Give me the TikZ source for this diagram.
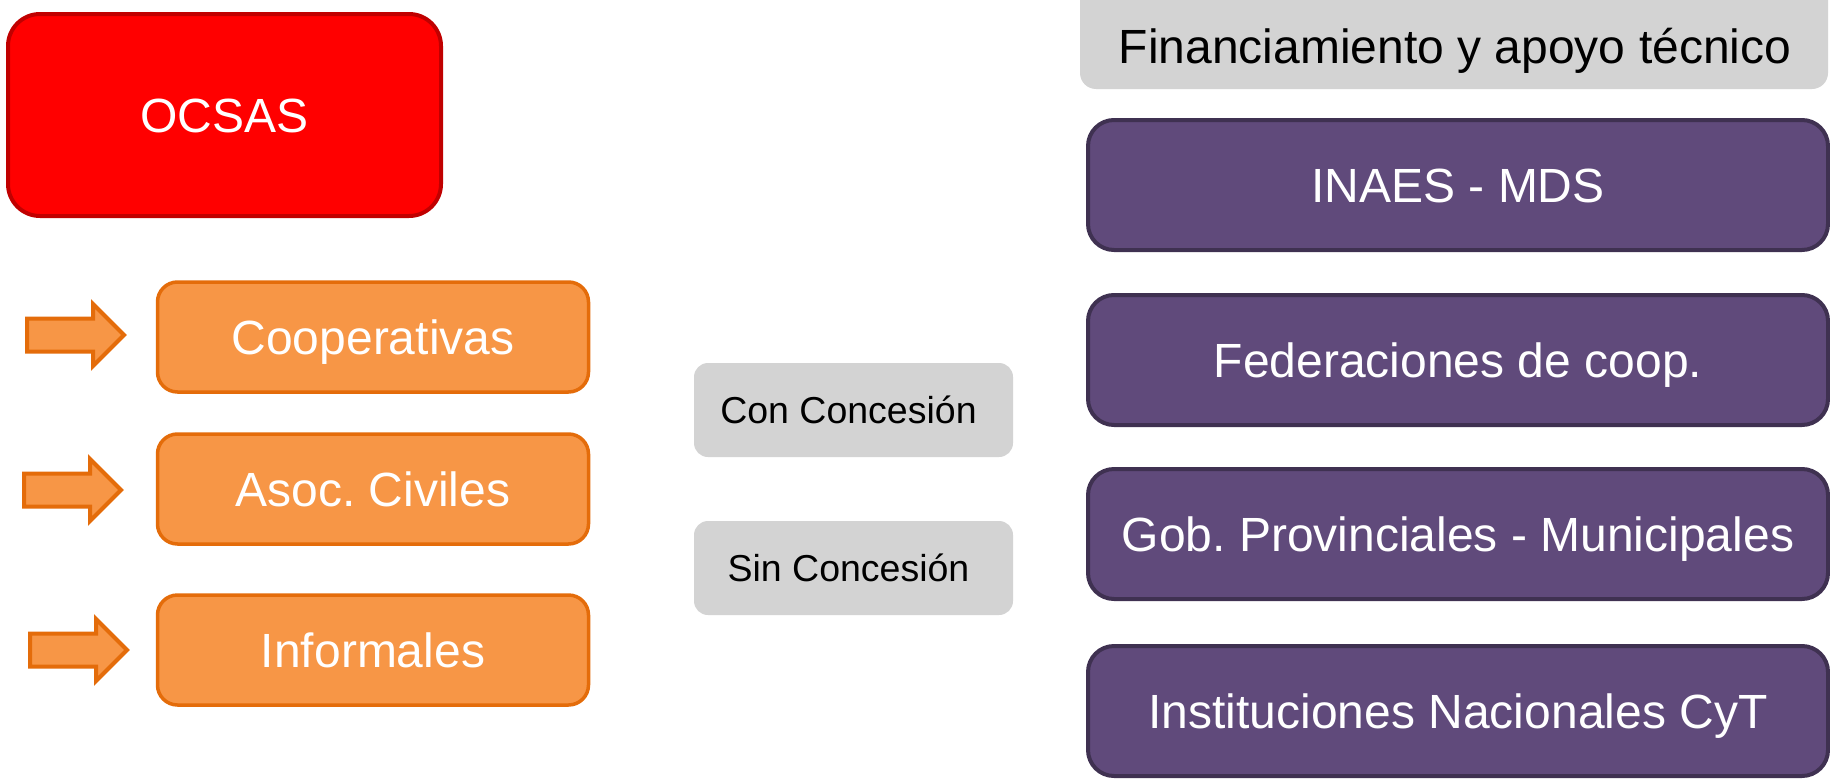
\documentclass[tikz,border=0pt]{standalone}
\usepackage{fontspec}
\setmainfont{Liberation Sans}
\frenchspacing
\definecolor{ocsasred}{HTML}{FF0000}
\definecolor{ocsasline}{HTML}{C00000}
\definecolor{orfill}{HTML}{F79646}
\definecolor{orline}{HTML}{E46C0A}
\definecolor{purfill}{HTML}{604A7B}
\definecolor{purline}{HTML}{3F3151}
\definecolor{grayfill}{HTML}{D3D3D3}
\begin{document}
\begin{tikzpicture}[x=1pt,y=-1pt,
	box/.style={inner sep=0pt,text height=34pt,text depth=0pt,
		font=\fontsize{48}{57}\selectfont,text=white}]
			\useasboundingbox (0,0) rectangle (1830,779);
			
			\node[box,fill=ocsasred,draw=ocsasline,line width=4pt,rounded corners=32pt,
				minimum width=433pt,minimum height=202pt] (ocsas) at (224.5,115) {OCSAS};
			
			\begin{scope}[every node/.style={box,fill=orfill,draw=orline,line width=3.5pt,
				rounded corners=20pt,minimum width=431pt,minimum height=110pt}]
			\node (coop) at (373,337) {Cooperativas};
			\node (asoc) at (373,489) {Asoc. Civiles};
			\node (info) at (373,650) {Informales};
			\end{scope}
			
			% flechas
			\foreach \x/\y in {25/335,22/490,28/650}
			\filldraw[fill=orfill,draw=orline,line width=4pt] (\x+2,\y-16.5) -- (\x+68,\y-16.5)
				-- (\x+68,\y-31) -- (\x+99,\y) -- (\x+68,\y+31) -- (\x+68,\y+16.5)
				-- (\x+2,\y+16.5) -- cycle;
			
			\begin{scope}[every node/.style={box,fill=grayfill,text=black,rounded corners=14pt,
				minimum width=319pt,minimum height=94pt,
				font=\fontsize{37.5}{45}\selectfont,text height=27pt}]
			\node (con) at (853.5,410) {\hspace*{-10pt}Con Concesión};
			\node (sin) at (853.5,568) {\hspace*{-10pt}Sin Concesión};
			\end{scope}
			
			\fill[grayfill,rounded corners=16pt] (1080,-30) rectangle (1828,89);
			\node[box,text=black] (fin) at (1455,46) {Financiamiento y apoyo técnico};
			
			\begin{scope}[every node/.style={box,fill=purfill,draw=purline,line width=4pt,
				rounded corners=26pt,minimum width=740pt,minimum height=130pt}]
			\node (inaes) at (1458,185) {INAES - MDS};
			\node (fed) at (1458,360) {Federaciones de coop.};
			\node (gob) at (1458,534) {Gob. Provinciales - Municipales};
			\node (inst) at (1458,711) {Instituciones Nacionales CyT};
			\end{scope}
			\end{tikzpicture}
\end{document}
